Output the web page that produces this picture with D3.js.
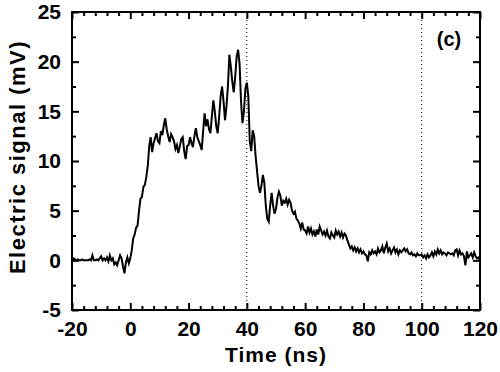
<!DOCTYPE html>
<html>
<head>
<meta charset="utf-8">
<script src="https://cdn.jsdelivr.net/npm/d3@7"></script>
<style>
  body { margin: 0; background: #fff; }
  svg { display: block; }
  text { font-family: "Liberation Sans", Arial, sans-serif; font-weight: bold; fill: #000; }
</style>
</head>
<body>
<div id="chart"></div>
<script>
// oscilloscope trace, sampled every 0.5 ns starting at -20 ns
var sampleStart = -20, sampleStep = 0.5;
var signal = [
  // -20 .. -10.5
  0.0, 0.2, 0.1, 0.0, 0.1, 0.0, 0.0, 0.1, 0.0, 0.0, 0.0, 0.0, 0.1, 0.0, 0.5, 0.0, 0.0, 0.1, 0.0, 0.2,
  // -10 .. -0.5
  0.4, 0.0, 0.2, 0.0, 0.3, -0.1, 0.5, 0.0, 0.2, -0.4, -0.2, -0.5, 0.0, 0.5, 0.2, -0.6, -1.3, -0.2, 0.3, -0.3,
  // 0 .. 9.5
  0.2, 1.0, 2.2, 2.6, 3.3, 3.5, 5.0, 6.2, 6.4, 7.4, 7.6, 8.4, 9.5, 11.5, 12.4, 10.9, 11.8, 12.3, 12.8, 12.0,
  // 10 .. 19.5
  11.8, 13.0, 12.6, 13.6, 14.3, 13.2, 12.5, 11.9, 12.7, 12.4, 12.0, 11.2, 11.6, 10.8, 11.5, 12.2, 12.4, 11.0, 10.2, 11.5,
  // 20 .. 29.5
  11.6, 12.4, 11.8, 11.4, 12.5, 13.3, 12.4, 12.0, 11.6, 11.1, 13.0, 14.8, 13.5, 14.2, 13.2, 12.8, 14.5, 16.1, 15.0, 13.5,
  // 30 .. 39.5
  12.8, 14.5, 16.5, 17.5, 16.0, 14.1, 15.5, 17.5, 20.7, 19.5, 18.0, 16.9, 18.5, 20.5, 21.2, 19.8, 16.0, 13.8, 15.0, 17.3,
  // 40 .. 49.5
  17.9, 16.5, 12.0, 11.0, 13.1, 12.5, 10.5, 9.0, 7.5, 6.8, 7.5, 8.6, 7.8, 5.5, 4.2, 3.9, 5.5, 6.8, 5.5, 4.7,
  // 50 .. 59.5
  5.2, 6.3, 6.9, 6.5, 5.5, 6.0, 5.8, 6.2, 5.6, 6.1, 5.8, 5.0, 4.7, 4.9, 4.2, 4.0, 3.7, 3.2, 3.8, 3.1,
  // 60 .. 69.5
  3.0, 2.7, 3.4, 2.8, 3.2, 2.6, 2.9, 2.4, 3.1, 2.6, 3.4, 3.0, 2.6, 2.9, 2.5, 3.0, 2.4, 2.2, 2.8, 2.5,
  // 70 .. 79.5
  2.3, 3.0, 2.6, 2.9, 2.4, 2.8, 2.3, 2.7, 2.5, 2.0, 1.6, 1.2, 1.4, 1.0, 1.3, 0.9, 1.2, 0.8, 1.1, 0.7,
  // 80 .. 89.5
  0.9, 0.6, 0.5, -0.1, 0.8, 0.6, 1.0, 0.7, 0.9, 0.6, 1.2, 0.8, 1.0, 1.4, 0.7, 1.3, 1.7, 0.9, 1.2, 0.7,
  // 90 .. 99.5
  1.0, 1.3, 0.8, 1.1, 0.6, 1.0, 0.8, 1.0, 1.2, 0.9, 1.1, 0.7, 0.6, 0.8, 0.5, 0.6, 0.4, 0.7, 0.5, 0.5,
  // 100 .. 109.5
  0.6, 0.3, 0.5, 0.2, 0.6, 0.3, 0.5, 0.8, 0.4, 0.9, 0.6, 1.1, 0.7, 1.0, 0.6, 0.8, 0.7, 0.5, 0.8, 0.7,
  // 110 .. 120
  0.6, 0.7, 0.5, 1.0, 1.1, 0.5, 1.0, 0.6, 0.7, 0.4, -0.5, 0.9, 0.3, 0.5, 0.7, 0.3, 0.8, 0.4, 0.2, 0.3, 0.0
];
var xTicks = [-20, 0, 20, 40, 60, 80, 100, 120];
var yTicks = [-5, 0, 5, 10, 15, 20, 25];
var markerTimes = [40, 100];
var panelLabel = "(c)";

var width = 500, height = 372;
var margin = {top: 12, right: 20, bottom: 62, left: 72};
var innerW = width - margin.left - margin.right,
    innerH = height - margin.top - margin.bottom;

var x = d3.scaleLinear().domain([-20, 120]).range([0, innerW]);
var y = d3.scaleLinear().domain([-5, 25]).range([innerH, 0]);

var data = signal.map(function(v, i) { return {t: sampleStart + i * sampleStep, v: v}; });

var svg = d3.select("#chart").append("svg")
  .attr("width", width)
  .attr("height", height);

var g = svg.append("g")
  .attr("transform", "translate(" + margin.left + "," + margin.top + ")");

// dotted markers
g.selectAll(".marker")
  .data(markerTimes)
  .enter().append("line")
  .attr("x1", function(d) { return x(d); })
  .attr("x2", function(d) { return x(d); })
  .attr("y1", 0)
  .attr("y2", innerH)
  .attr("stroke", "#000")
  .attr("stroke-width", 1)
  .attr("stroke-dasharray", "1,3");

// trace
var line = d3.line()
  .x(function(d) { return x(d.t); })
  .y(function(d) { return y(d.v); });

g.append("path")
  .datum(data)
  .attr("fill", "none")
  .attr("stroke", "#000")
  .attr("stroke-width", 2)
  .attr("stroke-linejoin", "miter")
  .attr("d", line);

// minor ticks
var xMinor = d3.range(-20, 121, 4).filter(function(d) { return d % 20 !== 0; });
var yMinor = d3.range(-2.5, 25, 5);
var plain = function(d) { return String(d); };

function axisStyle(sel) {
  sel.select(".domain").remove();
  sel.selectAll("line").attr("stroke", "#000").attr("stroke-width", 2);
  sel.selectAll("text").attr("font-size", 21)
    .style("font-family", "Liberation Sans, Arial, sans-serif")
    .style("font-weight", "bold");
}

// bottom
g.append("g").attr("transform", "translate(0," + innerH + ")")
  .call(d3.axisBottom(x).tickValues(xTicks).tickSizeInner(-7).tickSizeOuter(0).tickPadding(11).tickFormat(plain))
  .call(axisStyle);
g.append("g").attr("transform", "translate(0," + innerH + ")")
  .call(d3.axisBottom(x).tickValues(xMinor).tickSizeInner(-4).tickSizeOuter(0).tickFormat(""))
  .call(axisStyle);
// top
g.append("g")
  .call(d3.axisTop(x).tickValues(xTicks).tickSizeInner(-7).tickSizeOuter(0).tickFormat(""))
  .call(axisStyle);
g.append("g")
  .call(d3.axisTop(x).tickValues(xMinor).tickSizeInner(-4).tickSizeOuter(0).tickFormat(""))
  .call(axisStyle);
// left
g.append("g")
  .call(d3.axisLeft(y).tickValues(yTicks).tickSizeInner(-7).tickSizeOuter(0).tickPadding(11).tickFormat(plain))
  .call(axisStyle);
g.append("g")
  .call(d3.axisLeft(y).tickValues(yMinor).tickSizeInner(-4).tickSizeOuter(0).tickFormat(""))
  .call(axisStyle);
// right
g.append("g").attr("transform", "translate(" + innerW + ",0)")
  .call(d3.axisRight(y).tickValues(yTicks).tickSizeInner(-7).tickSizeOuter(0).tickFormat(""))
  .call(axisStyle);
g.append("g").attr("transform", "translate(" + innerW + ",0)")
  .call(d3.axisRight(y).tickValues(yMinor).tickSizeInner(-4).tickSizeOuter(0).tickFormat(""))
  .call(axisStyle);

// frame
g.append("rect")
  .attr("width", innerW)
  .attr("height", innerH)
  .attr("fill", "none")
  .attr("stroke", "#000")
  .attr("stroke-width", 2);

// labels
svg.append("text")
  .attr("x", margin.left + innerW / 2)
  .attr("y", 362)
  .attr("text-anchor", "middle")
  .attr("font-size", 21)
  .style("letter-spacing", "1px")
  .text("Time (ns)");

svg.append("text")
  .attr("transform", "translate(25," + (margin.top + innerH / 2 - 4) + ") rotate(-90)")
  .attr("text-anchor", "middle")
  .attr("font-size", 22)
  .style("letter-spacing", "1.5px")
  .text("Electric signal (mV)");

svg.append("text")
  .attr("x", 449)
  .attr("y", 46)
  .attr("text-anchor", "middle")
  .attr("font-size", 20)
  .text(panelLabel);
</script>
</body>
</html>
